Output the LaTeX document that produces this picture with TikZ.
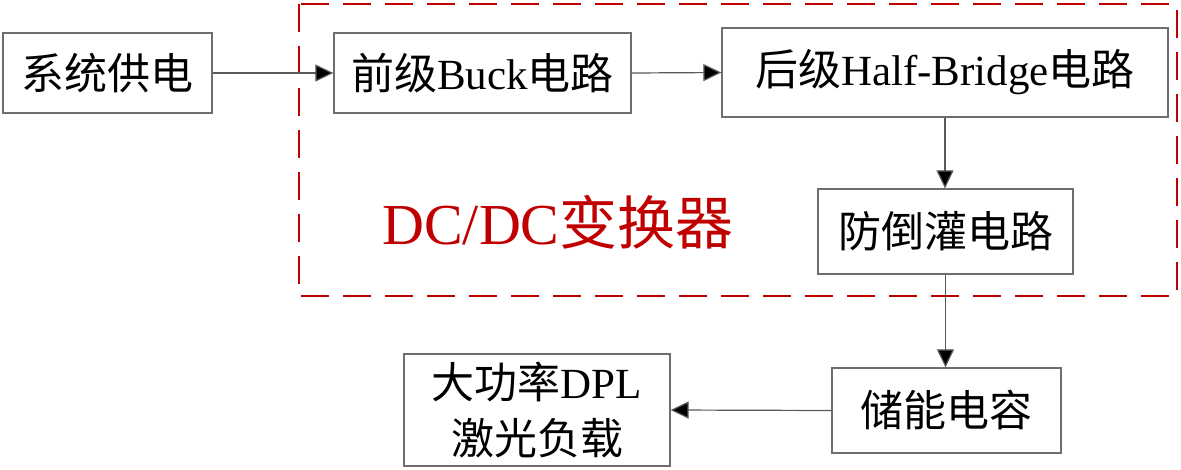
\documentclass[tikz,border=0pt]{standalone}
\usepackage{fontspec}
\setmainfont{Liberation Serif}
\newfontfamily\cjk{Noto Sans CJK SC}
\usetikzlibrary{arrows.meta}
\definecolor{dred}{RGB}{192,0,0}
\definecolor{boxgray}{RGB}{110,110,110}
\begin{document}
\begin{tikzpicture}[x=1pt,y=-1pt,
  blk/.style={draw=boxgray,line width=1.3pt,rectangle,inner sep=0pt,
    font=\fontsize{43}{56}\selectfont,align=center},
  conn/.style={draw=black!65,line width=1.2pt,
    -{Triangle[length=18pt,width=17pt,fill=black]}},
  dashbox/.style={draw=dred,line width=2pt,dash pattern=on 28pt off 14pt},
]
\useasboundingbox (0,0) rectangle (1181,469);
\draw[dashbox] (299,4) rectangle (1177,296);

\node[blk,minimum width=209pt,minimum height=80pt] (sys) at (107.5,73) {{\cjk 系统供电}};
\node[blk,minimum width=297pt,minimum height=80pt] (buck) at (482.5,73) {{\cjk 前级}Buck{\cjk 电路}};
\node[blk,minimum width=446pt,minimum height=89pt] (hb) at (945,72.5) {{\cjk 后级}Half-Bridge{\cjk 电路}};
\node[blk,minimum width=255pt,minimum height=85pt] (fdg) at (945.5,231.5) {{\cjk 防倒灌电路}};
\node[blk,minimum width=229pt,minimum height=85pt] (cap) at (946.5,410.5) {{\cjk 储能电容}};
\node[blk,minimum width=266pt,minimum height=112pt] (load) at (537,410) {{\cjk 大功率}DPL\\{\cjk 激光负载}};

\node[text=dred,font=\fontsize{58}{62}\selectfont,inner sep=0pt] (lbl) at (558,222) {DC/DC{\cjk 变换器}};

\draw[conn] (sys.east) -- (buck.west);
\draw[conn] (buck.east) -- (hb.west);
\draw[conn] (hb.south) -- (hb.south |- fdg.north);
\draw[conn] (fdg.south) -- (fdg.south |- cap.north);
\draw[conn] (cap.west) -- (load.east);
\end{tikzpicture}
\end{document}
